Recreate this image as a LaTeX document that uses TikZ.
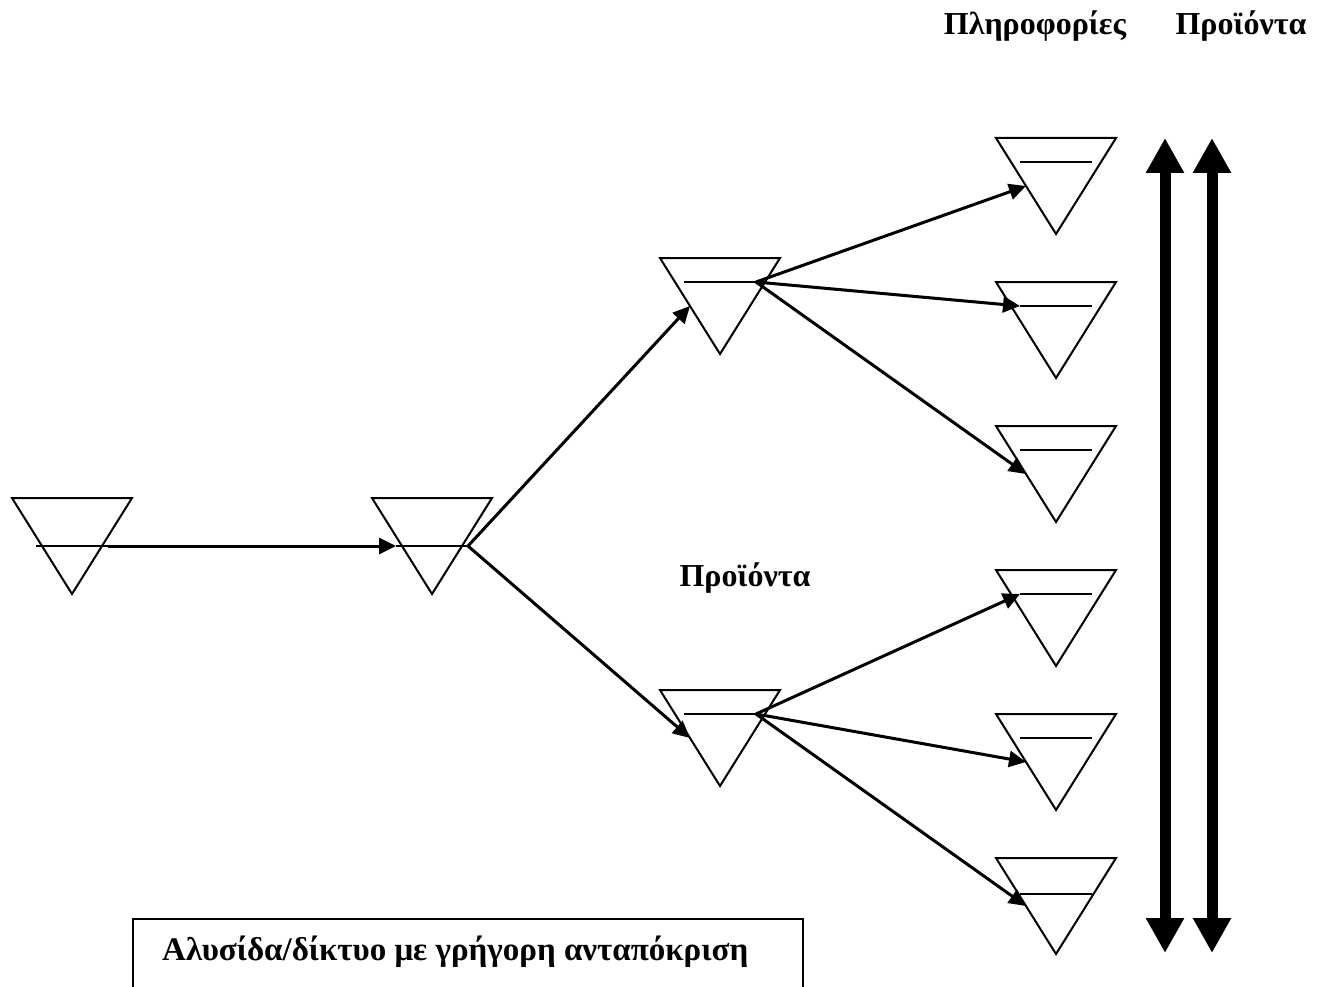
\documentclass[tikz,border=0pt]{standalone}
\usepackage{fontspec}
\setmainfont{Liberation Serif}
\usetikzlibrary{arrows.meta}

% Inverted triangle (a stock point) with its inner level line.
% #1 name, #2 centre x, #3 top y, #4 depth of the level line below the top
\newcommand{\stockpoint}[4]{%
  \draw[tri] ({#2-60},#3) -- ({#2+60},#3) -- (#2,{#3+96}) -- cycle;
  \coordinate (#1-w) at ({#2-36},{#3+#4});
  \coordinate (#1-e) at ({#2+36},{#3+#4});
  \coordinate (#1-edge) at ({#2-30},{#3+48});
  \draw[level] (#1-w) -- (#1-e);
}

\tikzset{
  tri/.style={line width=2pt, line join=miter},
  level/.style={line width=2pt},
  flow/.style={line width=3pt, -{Triangle[length=17pt,width=16pt]}},
  bigarrow/.style={line width=11pt, {Triangle[length=35pt,width=36pt]}-{Triangle[length=35pt,width=36pt]}},
  label/.style={font=\bfseries\fontsize{32}{38}\selectfont, inner sep=0pt, anchor=base}
}

\begin{document}
\begin{tikzpicture}[x=1pt, y=-1pt]
  \useasboundingbox (0,0) rectangle (1317,987);

  % stock points
  \stockpoint{a}{72}{498}{48}
  \stockpoint{b}{432}{498}{48}
  \stockpoint{c}{720}{258}{24}
  \stockpoint{d}{720}{690}{24}
  \stockpoint{r1}{1056}{138}{24}
  \stockpoint{r2}{1056}{282}{24}
  \stockpoint{r3}{1056}{426}{24}
  \stockpoint{r4}{1056}{570}{24}
  \stockpoint{r5}{1056}{714}{24}
  \stockpoint{r6}{1056}{858}{36}

  % product flows
  \draw[flow] (a-e) -- (b-w);
  \draw[flow] (b-e) -- (c-edge);
  \draw[flow] (b-e) -- (d-edge);
  \draw[flow] (c-e) -- (r1-edge);
  \draw[flow] (c-e) -- (r2-w);
  \draw[flow] (c-e) -- (r3-edge);
  \draw[flow] (d-e) -- (r4-w);
  \draw[flow] (d-e) -- (r5-edge);
  \draw[flow] (d-e) -- (r6-edge);

  % two-way flows of information and products
  \coordinate (infotop) at (1165,138);
  \coordinate (infobot) at (1165,953);
  \coordinate (prodtop) at (1212,138);
  \coordinate (prodbot) at (1212,953);
  \draw[bigarrow] (infotop) -- (infobot);
  \draw[bigarrow] (prodtop) -- (prodbot);

  % headings
  \node[label] (info) at (1035,35) {Πληροφορίες};
  \node[label] (prod) at (1241,35) {Προϊόντα};
  \node[label] (mid) at (745,586) {Προϊόντα};

  % caption box
  \node[label, anchor=base west, font=\bfseries\fontsize{33}{38}\selectfont] (caption) at (162,960) {Αλυσίδα/δίκτυο με γρήγορη ανταπόκριση};
  \coordinate (boxbl) at (133,987);
  \coordinate (boxtl) at (133,919);
  \coordinate (boxtr) at (803,919);
  \coordinate (boxbr) at (803,987);
  \draw[line width=2pt] (boxbl) -- (boxtl) -- (boxtr) -- (boxbr);
\end{tikzpicture}
\end{document}
